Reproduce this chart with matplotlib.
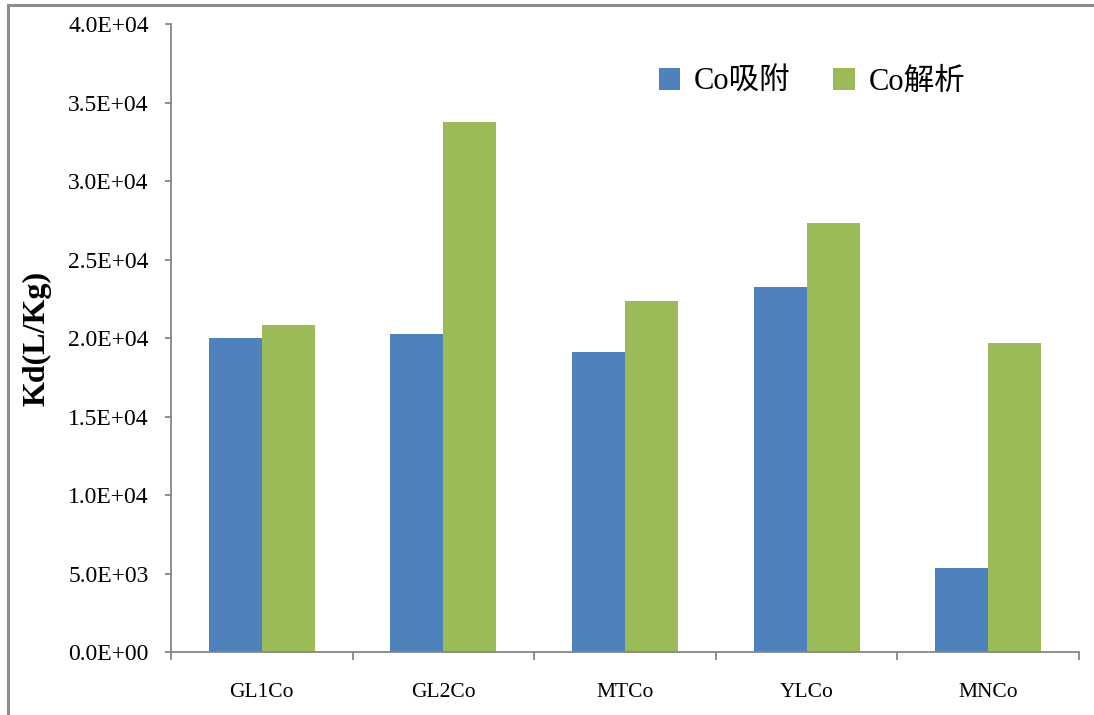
import numpy as np
import matplotlib
matplotlib.use("Agg")
import matplotlib.pyplot as plt
from matplotlib.patches import Rectangle
from matplotlib.ticker import FuncFormatter


categorias = ["GL1Co", "GL2Co", "MTCo", "YLCo", "MNCo"]
adsorcion = [20000, 20250, 19100, 23250, 5350]     # Co吸附
desorcion = [20850, 33750, 22350, 27300, 19700]   # Co解析
series_nombres = ["Co吸附", "Co解析"]
y_ticks = [0, 5000, 10000, 15000, 20000, 25000, 30000, 35000, 40000]

AZUL = "#4F81BD"
VERDE = "#9BBB59"
GRIS = "#868686"
FUENTES = ["Liberation Serif", "Noto Sans CJK SC"]

fig = plt.figure(figsize=(10.94, 7.15), dpi=100)
ax = fig.add_axes([0.1563, 0.0881, 0.83, 0.8783])

# marco exterior del grafico
fig.patches.append(Rectangle((8 / 1094, -0.05), 1.2, 1 - 4.5 / 715 + 0.05,
                             transform=fig.transFigure, fill=False,
                             edgecolor="#8c8c8c", linewidth=2.2))

x = np.arange(len(categorias))
ancho = 0.292
ax.bar(x - ancho / 2, adsorcion, ancho, color=AZUL, label=series_nombres[0])
ax.bar(x + ancho / 2, desorcion, ancho, color=VERDE, label=series_nombres[1])

ax.set_xlim(-0.5, len(categorias) - 0.5)
ax.set_ylim(0, 40000)
ax.set_yticks(y_ticks)
ax.yaxis.set_major_formatter(FuncFormatter(lambda v, p: f"{v:.1E}"))

ax.set_xticks(x)
ax.set_xticklabels(categorias)
ax.set_xticks(np.arange(-0.5, len(categorias)), minor=True)
ax.tick_params(axis="x", which="major", length=0, pad=22)
ax.tick_params(axis="x", which="minor", length=6, color=GRIS, width=1.3)
ax.tick_params(axis="y", length=4, color=GRIS, width=1.3, pad=12)

for lbl in ax.get_xticklabels():
    lbl.set_family(FUENTES)
    lbl.set_fontsize(15.5)
for lbl in ax.get_yticklabels():
    lbl.set_family(FUENTES)
    lbl.set_fontsize(17)

for lado in ["top", "right"]:
    ax.spines[lado].set_visible(False)
for lado in ["left", "bottom"]:
    ax.spines[lado].set_color(GRIS)
    ax.spines[lado].set_linewidth(1.3)

ax.set_ylabel("Kd(L/Kg)", fontsize=23, fontweight="bold",
              family="Liberation Serif", labelpad=12)

leg = ax.legend(ncol=2, frameon=False, loc="center",
                bbox_to_anchor=(0.742, 0.885), bbox_transform=fig.transFigure,
                fontsize=22, handlelength=0.7, handleheight=0.7,
                handletextpad=0.45, columnspacing=1.4)
for t in leg.get_texts():
    t.set_family(FUENTES)

fig.savefig("out.png", dpi=100)
